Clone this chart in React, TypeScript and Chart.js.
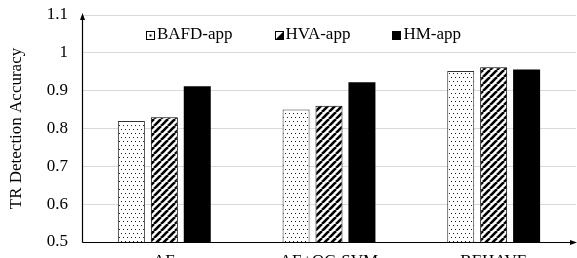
import { useEffect, useRef } from 'react';
import { Chart, registerables } from 'chart.js';

Chart.register(...registerables);

const categories = ['AE', 'AE+OC-SVM', 'BEHAVE'];
const seriesNames = ['BAFD-app', 'HVA-app', 'HM-app'];
const bafdValues = [0.82, 0.85, 0.952];
const hvaValues = [0.83, 0.86, 0.962];
const hmValues = [0.912, 0.922, 0.956];
const yMin = 0.5;
const yMax = 1.1;
const yStep = 0.1;
const yTitle = 'TR Detection Accuracy';

const FONT = "'Liberation Serif', 'Times New Roman', serif";

function makeDotPattern(ctx: CanvasRenderingContext2D) {
  const c = document.createElement('canvas');
  c.width = 4;
  c.height = 8;
  const g = c.getContext('2d')!;
  g.fillStyle = '#ffffff';
  g.fillRect(0, 0, 4, 8);
  g.fillStyle = '#222222';
  g.fillRect(1, 1, 1, 1);
  g.fillRect(3, 5, 1, 1);
  return ctx.createPattern(c, 'repeat')!;
}

function makeHatchPattern(ctx: CanvasRenderingContext2D) {
  const s = 7;
  const c = document.createElement('canvas');
  c.width = s;
  c.height = s;
  const g = c.getContext('2d')!;
  g.fillStyle = '#ffffff';
  g.fillRect(0, 0, s, s);
  g.strokeStyle = '#000000';
  g.lineWidth = 2.6;
  for (const x0 of [-s, 0, s]) {
    g.beginPath();
    g.moveTo(x0, s);
    g.lineTo(x0 + s, 0);
    g.stroke();
  }
  return ctx.createPattern(c, 'repeat')!;
}

const axisArrows = {
  id: 'axisArrows',
  afterDraw(chart: any) {
    const { ctx, chartArea } = chart;
    const { left, right, top, bottom } = chartArea;
    ctx.save();
    ctx.strokeStyle = '#000';
    ctx.fillStyle = '#000';
    ctx.lineWidth = 1.2;
    const lx = Math.round(left) + 0.5;
    const by = Math.round(bottom) + 0.5;
    ctx.beginPath();
    ctx.moveTo(lx, by);
    ctx.lineTo(lx, top + 2);
    ctx.stroke();
    ctx.beginPath();
    ctx.moveTo(lx, top - 2);
    ctx.lineTo(lx - 2.5, top + 5);
    ctx.lineTo(lx + 2.5, top + 5);
    ctx.closePath();
    ctx.fill();
    ctx.beginPath();
    ctx.moveTo(lx, by);
    ctx.lineTo(right - 3, by);
    ctx.stroke();
    ctx.beginPath();
    ctx.moveTo(right + 1, by);
    ctx.lineTo(right - 6, by - 2.5);
    ctx.lineTo(right - 6, by + 2.5);
    ctx.closePath();
    ctx.fill();
    ctx.restore();
  },
};

const customLegend = {
  id: 'customLegend',
  afterDraw(chart: any) {
    const { ctx, chartArea } = chart;
    ctx.save();
    ctx.font = `17px ${FONT}`;
    ctx.textBaseline = 'middle';
    ctx.textAlign = 'left';
    let x = chartArea.left + 64;
    const yc = chartArea.top + 20;
    const box = 8;
    chart.data.datasets.forEach((ds: any, i: number) => {
      const bx = Math.round(x) + 0.5;
      const byy = Math.round(yc - box / 2) + 0.5;
      ctx.fillStyle = '#fff';
      ctx.fillRect(bx, byy, box, box);
      ctx.fillStyle = '#000';
      if (i === 0) {
        ctx.fillRect(bx + 3, byy + 3, 2, 2);
      } else if (i === 1) {
        ctx.beginPath();
        ctx.moveTo(bx + box, byy);
        ctx.lineTo(bx + box, byy + box);
        ctx.lineTo(bx, byy + box);
        ctx.closePath();
        ctx.fill();
      } else {
        ctx.fillRect(bx, byy, box, box);
      }
      ctx.strokeStyle = '#000';
      ctx.lineWidth = 1;
      ctx.strokeRect(bx, byy, box, box);
      ctx.fillStyle = '#000';
      const tx = x + box + 3;
      ctx.fillText(ds.label, tx, yc);
      const w = ctx.measureText(ds.label).width;
      x = tx + w + 42;
    });
    ctx.restore();
  },
};

export default function App() {
  const ref = useRef<HTMLCanvasElement | null>(null);

  useEffect(() => {
    const canvas = ref.current!;
    const ctx = canvas.getContext('2d')!;
    const dots = makeDotPattern(ctx);
    const hatch = makeHatchPattern(ctx);

    const chart = new Chart(ctx, {
      type: 'bar',
      data: {
        labels: categories,
        datasets: [
          {
            label: seriesNames[0],
            data: bafdValues,
            backgroundColor: dots,
            borderColor: '#333',
            borderWidth: 1,
            borderSkipped: 'bottom',
          },
          {
            label: seriesNames[1],
            data: hvaValues,
            backgroundColor: hatch,
            borderColor: '#000',
            borderWidth: 1,
            borderSkipped: 'bottom',
          },
          {
            label: seriesNames[2],
            data: hmValues,
            backgroundColor: '#000',
            borderColor: '#000',
            borderWidth: 0,
          },
        ],
      },
      options: {
        responsive: false,
        animation: false,
        devicePixelRatio: 1,
        layout: { padding: { left: 0, right: 1, top: 15, bottom: 0 } },
        datasets: {
          bar: { categoryPercentage: 0.6, barPercentage: 0.82 },
        },
        plugins: {
          legend: { display: false },
          tooltip: { enabled: false },
        },
        scales: {
          x: {
            grid: { display: false, drawTicks: false },
            border: { display: false },
            ticks: {
              color: '#000',
              font: { family: FONT, size: 17 },
              padding: 9,
              maxRotation: 0,
              autoSkip: false,
            },
            afterFit(scale: any) {
              scale.height = 16;
              scale.paddingLeft = 0;
              scale.paddingRight = 0;
            },
          },
          y: {
            min: yMin,
            max: yMax,
            grid: { color: '#d9d9d9', lineWidth: 1, drawTicks: false },
            border: { display: false },
            ticks: {
              stepSize: yStep,
              color: '#000',
              font: { family: FONT, size: 17 },
              padding: 14,
              callback: (v: any) => String(Math.round(Number(v) * 10) / 10),
            },
            title: {
              display: true,
              text: yTitle,
              color: '#000',
              font: { family: FONT, size: 17 },
              padding: { top: 6, bottom: 0 },
            },
            afterFit(scale: any) {
              scale.width = 82;
              scale.paddingTop = 0;
              scale.paddingBottom = 0;
            },
          },
        },
      },
      plugins: [axisArrows, customLegend],
    });
    return () => chart.destroy();
  }, []);

  return (
    <div style={{ position: 'absolute', left: 0, top: 0, width: 577, height: 258, background: '#fff' }}>
      <canvas ref={ref} width={577} height={258} style={{ display: 'block', width: 577, height: 258 }} />
    </div>
  );
}
